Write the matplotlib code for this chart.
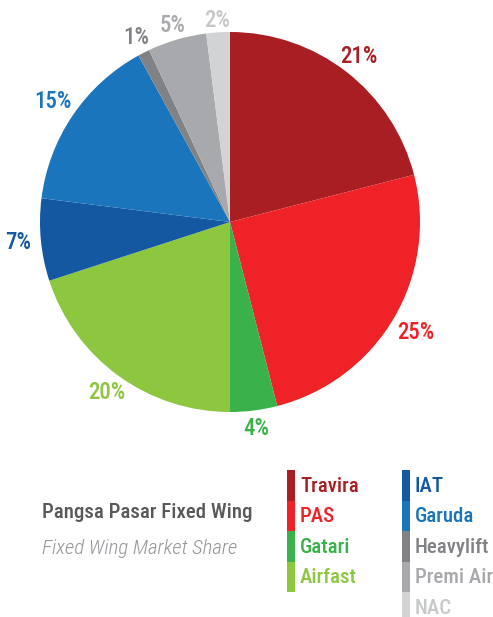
import numpy as np
import matplotlib.pyplot as plt
from matplotlib.patches import Rectangle
from matplotlib import font_manager

airlines = ['Travira', 'PAS', 'Gatari', 'Airfast', 'IAT', 'Garuda', 'Heavylift', 'Premi Air', 'NAC']
shares = [21, 25, 4, 20, 7, 15, 1, 5, 2]
colors = ['#A91E22', '#EE2227', '#3AB14A', '#8DC63F', '#1358A0', '#1A75BC', '#808285', '#A7A9AC', '#D1D3D4']
label_colors = ['#A91E22', '#EE2227', '#3AB14A', '#8DC63F', '#1358A0', '#1A75BC', '#808285', '#A7A9AC', '#C7C8CA']

# condensed font if there is one, else Roboto
names = {f.name for f in font_manager.fontManager.ttflist}
cond = 'Roboto'
for cand in ['Roboto Condensed', 'Archivo Narrow', 'Barlow Condensed', 'Liberation Sans Narrow']:
    if cand in names:
        cond = cand
        break
plt.rcParams['font.family'] = [cond, 'DejaVu Sans']
k = 1.0 if cond != 'Roboto' else 0.87

W, H = 493, 617
fig = plt.figure(figsize=(W / 100, H / 100), dpi=100)

# pie
cx, cy, r = 230, 222, 190
ax = fig.add_axes([(cx - r) / W, (H - cy - r) / H, 2 * r / W, 2 * r / H])
lab_fs = 16.5 * k
wedges, texts = ax.pie(shares, colors=colors, startangle=90, counterclock=False,
                       labels=[f'{s}%' for s in shares], labeldistance=1.12,
                       textprops=dict(fontsize=lab_fs, fontweight='medium'))
ax.set_xlim(-1, 1)
ax.set_ylim(-1, 1)
ax.axis('off')

# put each label a small gap outside the rim, measured to the edge of its text
fig.canvas.draw()
rend = fig.canvas.get_renderer()
cap_h = 0.72 * lab_fs * 100 / 72
for w, t, c in zip(wedges, texts, label_colors):
    t.set_color(c)
    t.set_ha('center')
    t.set_va('center')
    th = np.deg2rad((w.theta1 + w.theta2) / 2)
    s = np.sin(th)
    gap = 10 - 6 * max(s, 0) ** 8   # labels at the top sit tighter
    bw = t.get_window_extent(rend).width
    ext = min(bw / 2 / max(abs(np.cos(th)), 1e-6), cap_h / 2 / max(abs(s), 1e-6))
    d = (r + gap + ext) / r
    t.set_position((d * np.cos(th), d * s))

# title
fig.text(42 / W, 1 - 512 / H, 'Pangsa Pasar Fixed Wing', fontsize=15 * k, fontweight='medium',
         color='#58595B', va='center')
fig.text(42 / W, 1 - 549 / H, 'Fixed Wing Market Share', fontsize=15 * k, style='italic',
         fontweight='light', color='#939598', va='center')

# legend
cols = [(287, airlines[:4], colors[:4], label_colors[:4]),
        (402, airlines[4:], colors[4:], label_colors[4:])]
row_h = 30.5
for x0, labs, cs, lcs in cols:
    for i, (lab, c, lc) in enumerate(zip(labs, cs, lcs)):
        y_top = 470 + i * row_h
        fig.patches.append(Rectangle((x0 / W, 1 - (y_top + row_h) / H), 8 / W, row_h / H,
                                     transform=fig.transFigure, color=c, lw=0))
        fig.text((x0 + 13) / W, 1 - (y_top + row_h / 2 + 1) / H, lab, fontsize=15 * k,
                 fontweight='medium', color=lc, va='center')

fig.savefig('out.png', dpi=100)
